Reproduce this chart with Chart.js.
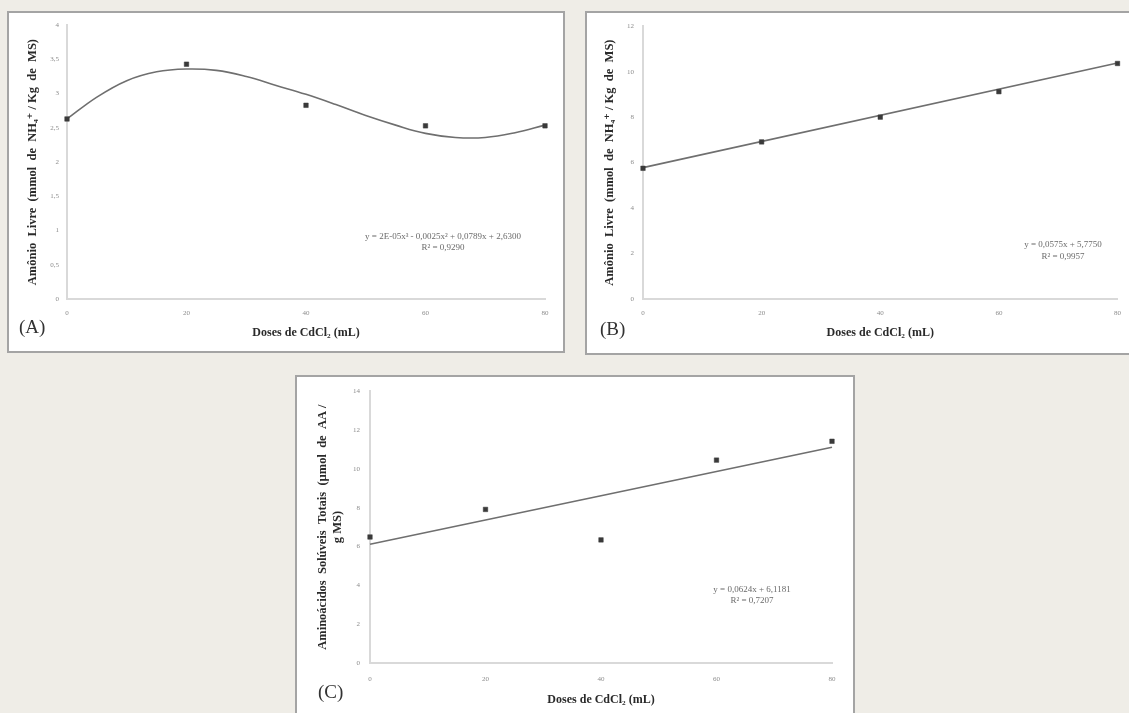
<!DOCTYPE html>
<html>
<head>
<meta charset="utf-8">
<script src="https://cdn.jsdelivr.net/npm/chart.js@4/dist/chart.umd.min.js"></script>
<style>
  html, body { margin: 0; padding: 0; }
  body { width: 1129px; height: 713px; background: #efede7; overflow: hidden; position: relative; }
  .panel { position: absolute; background: #ffffff; border: 2px solid #a4a4a4; box-sizing: border-box; }
  .panel canvas { position: absolute; left: 0; top: 0; }
</style>
</head>
<body>
<div class="panel" style="left:7px;top:11px;width:558px;height:342px"><canvas id="cA" width="554" height="338"></canvas></div>
<div class="panel" style="left:585px;top:11px;width:548px;height:344px"><canvas id="cB" width="544" height="340"></canvas></div>
<div class="panel" style="left:295px;top:375px;width:560px;height:341px"><canvas id="cC" width="556" height="337"></canvas></div>
<script>
// Doses de CdCl2 (mL)
const doses = [0, 20, 40, 60, 80];
const xTicks = [0, 20, 40, 60, 80];

// (A) Amônio livre
const amonioA = [2.63, 3.43, 2.83, 2.53, 2.53];
const ajusteA_x = [0, 5, 10, 15, 20, 25, 30, 35, 40, 45, 50, 55, 60, 65, 70, 75, 80];
const ajusteA_y = [2.63, 2.95, 3.19, 3.32, 3.36, 3.34, 3.25, 3.12, 2.99, 2.84, 2.68, 2.54, 2.42, 2.36, 2.36, 2.43, 2.54];
const yTicksA = [0, 0.5, 1, 1.5, 2, 2.5, 3, 3.5, 4];

// (B) Amônio livre
const amonioB = [5.75, 6.91, 8.00, 9.12, 10.36];
const ajusteB_x = [0, 80];
const ajusteB_y = [5.78, 10.38];
const yTicksB = [0, 2, 4, 6, 8, 10, 12];

// (C) Aminoácidos solúveis totais
const aminoC = [6.49, 7.91, 6.34, 10.45, 11.42];
const ajusteC_x = [0, 80];
const ajusteC_y = [6.12, 11.11];
const yTicksC = [0, 2, 4, 6, 8, 10, 12, 14];

const SERIF = '"Liberation Serif", "DejaVu Serif", serif';

// free text drawn on the canvas (equations, panel letters)
const panelText = {
  id: 'panelText',
  afterDraw(chart, args, opts) {
    const ctx = chart.ctx;
    (opts.items || []).forEach(it => {
      ctx.save();
      ctx.font = it.font;
      ctx.fillStyle = it.color;
      ctx.textAlign = it.align || 'left';
      ctx.textBaseline = 'middle';
      ctx.fillText(it.text, it.x, it.y);
      ctx.restore();
    });
  }
};

const fmt = v => String(v).replace('.', ',');

function makeChart(id, cfg) {
  const pts = cfg.x.map((x, i) => ({ x: x, y: cfg.y[i] }));
  const fit = cfg.fx.map((x, i) => ({ x: x, y: cfg.fy[i] }));
  return new Chart(document.getElementById(id), {
    type: 'scatter',
    data: {
      datasets: [
        {
          data: fit,
          showLine: true,
          borderColor: '#6f6f6f',
          borderWidth: 1.6,
          pointRadius: 0,
          tension: cfg.tension,
          fill: false,
          clip: false,
          order: 2
        },
        {
          data: pts,
          showLine: false,
          pointStyle: 'rect',
          pointRadius: 3.2,
          backgroundColor: '#3a3a3a',
          borderColor: '#3a3a3a',
          borderWidth: 0.5,
          clip: false,
          order: 1
        }
      ]
    },
    options: {
      responsive: false,
      animation: false,
      events: [],
      layout: { padding: { left: 0, top: cfg.padTop, right: cfg.padRight, bottom: 0 } },
      plugins: {
        legend: { display: false },
        tooltip: { enabled: false },
        panelText: { items: cfg.texts }
      },
      scales: {
        x: {
          type: 'linear',
          min: 0, max: 80,
          afterBuildTicks: s => { s.ticks = xTicks.map(v => ({ value: v })); },
          afterFit: s => { s.height = cfg.xHeight; },
          grid: { display: false, drawTicks: false },
          border: { display: true, color: '#d9d9d9', width: 2 },
          ticks: { padding: cfg.xTickPad, color: '#8c8c8c', font: { family: SERIF, size: 7 }, callback: fmt, maxRotation: 0 },
          title: {
            display: true,
            text: 'Doses de CdCl₂ (mL)',
            color: '#2a2a2a',
            font: { family: SERIF, size: 12, weight: 'bold', lineHeight: 1.2 },
            padding: { top: 0, bottom: cfg.xTitlePad }
          }
        },
        y: {
          type: 'linear',
          min: cfg.yTicks[0], max: cfg.yTicks[cfg.yTicks.length - 1],
          afterBuildTicks: s => { s.ticks = cfg.yTicks.map(v => ({ value: v })); },
          afterFit: s => { s.width = cfg.yWidth; },
          grid: { display: false, drawTicks: false },
          border: { display: true, color: '#d9d9d9', width: 2 },
          ticks: { padding: cfg.yTickPad, color: '#8c8c8c', font: { family: SERIF, size: 7 }, callback: fmt },
          title: {
            display: true,
            text: cfg.yTitle,
            color: '#2a2a2a',
            font: { family: SERIF, size: 12.5, weight: 'bold', lineHeight: 1.15 },
            padding: { top: cfg.yTitlePad, bottom: 0 }
          }
        }
      }
    },
    plugins: [panelText]
  });
}

const EQ = '9px ' + SERIF;
const EQC = '#6a6a6a';
const LAB = '19px ' + SERIF;
const LABC = '#333333';

makeChart('cA', {
  x: doses, y: amonioA, fx: ajusteA_x, fy: ajusteA_y, tension: 0.4,
  yTicks: yTicksA,
  yTitle: 'Amônio  Livre  (mmol  de  NH₄⁺ / Kg  de  MS)',
  padTop: 9, padRight: 18, yWidth: 58, xHeight: 52,
  xTickPad: 10, yTickPad: 8, xTitlePad: 10.8, yTitlePad: 16.8,
  texts: [
    { text: 'y = 2E-05x³ - 0,0025x² + 0,0789x + 2,6300', x: 434, y: 224, font: EQ, color: EQC, align: 'center' },
    { text: 'R² = 0,9290', x: 434, y: 235, font: EQ, color: EQC, align: 'center' },
    { text: '(A)', x: 10, y: 315, font: LAB, color: LABC, align: 'left' }
  ]
});

makeChart('cB', {
  x: doses, y: amonioB, fx: ajusteB_x, fy: ajusteB_y, tension: 0,
  yTicks: yTicksB,
  yTitle: 'Amônio  Livre  (mmol  de  NH₄⁺ / Kg  de  MS)',
  padTop: 9, padRight: 8, yWidth: 56, xHeight: 54,
  xTickPad: 10, yTickPad: 9, xTitlePad: 12.8, yTitlePad: 15.8,
  texts: [
    { text: 'y = 0,0575x + 5,7750', x: 476, y: 232, font: EQ, color: EQC, align: 'center' },
    { text: 'R² = 0,9957', x: 476, y: 244, font: EQ, color: EQC, align: 'center' },
    { text: '(B)', x: 13, y: 317, font: LAB, color: LABC, align: 'left' }
  ]
});

makeChart('cC', {
  x: doses, y: aminoC, fx: ajusteC_x, fy: ajusteC_y, tension: 0,
  yTicks: yTicksC,
  yTitle: ['Aminoácidos  Solúveis  Totais  (µmol  de  AA /', 'g MS)'],
  padTop: 10, padRight: 21, yWidth: 73, xHeight: 51,
  xTickPad: 11.5, yTickPad: 10, xTitlePad: 6.8, yTitlePad: 18.8,
  texts: [
    { text: 'y = 0,0624x + 6,1181', x: 455, y: 213, font: EQ, color: EQC, align: 'center' },
    { text: 'R² = 0,7207', x: 455, y: 224, font: EQ, color: EQC, align: 'center' },
    { text: '(C)', x: 21, y: 316, font: LAB, color: LABC, align: 'left' }
  ]
});
</script>
</body>
</html>
